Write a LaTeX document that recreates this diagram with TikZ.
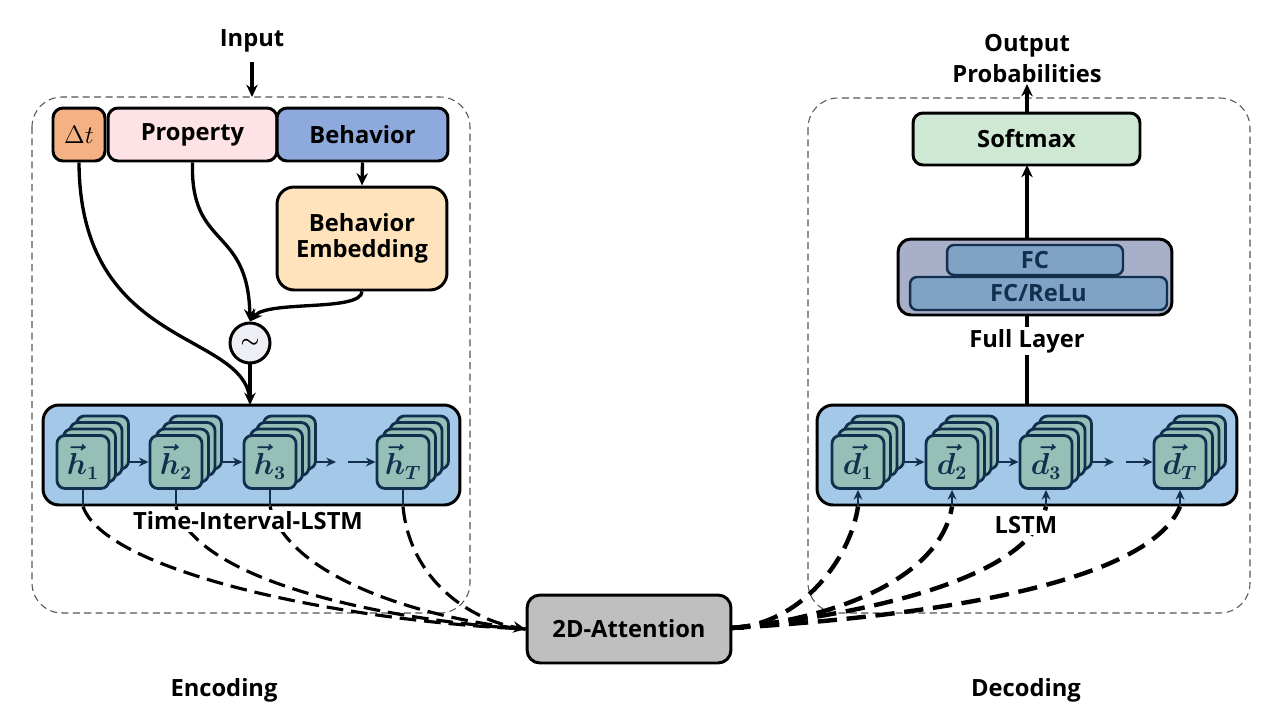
\documentclass[tikz,border=0pt]{standalone}
\usepackage{amsmath,bm}
\usepackage[no-math]{fontspec}
\setmainfont{Open Sans}
\usetikzlibrary{arrows.meta}
\definecolor{navy}{HTML}{12304D}
\definecolor{dtfill}{HTML}{F4B183}
\definecolor{propfill}{HTML}{FDE3E6}
\definecolor{behfill}{HTML}{8EA9DB}
\definecolor{embfill}{HTML}{FFE3BC}
\definecolor{circfill}{HTML}{EEEFF4}
\definecolor{lstmfill}{HTML}{A3C8E8}
\definecolor{cellfill}{HTML}{96BFB7}
\definecolor{fullfill}{HTML}{A7AFC9}
\definecolor{fcfill}{HTML}{7FA2C5}
\definecolor{softfill}{HTML}{CEE8D4}
\definecolor{attfill}{HTML}{BFBFBF}
\definecolor{dashgray}{HTML}{555555}
\pgfdeclarelayer{background}
\pgfsetlayers{background,main}
\newcommand\cellstack[4]{%
  \foreach \k in {3,2,1} {\node[cell] at ({#2+6.5*\k},{#3-6.5*\k}) {};}
  \node[cell, font=\fontsize{16}{18}\selectfont] (#1) at (#2,#3) {#4};}
\begin{document}
\begin{tikzpicture}[x=0.02cm,y=-0.02cm,
  txt/.style={font=\bfseries\fontsize{13.5}{16}\selectfont},
  box/.style={draw=black, line width=1.7pt, rounded corners=0.2cm, inner sep=0pt, txt},
  cell/.style={draw=navy, line width=1.6pt, fill=cellfill, minimum width=1.04cm, minimum height=1.06cm, rounded corners=0.16cm, inner sep=0pt, text=navy},
  inner/.style={draw=navy, line width=1.4pt, fill=fcfill, rounded corners=0.14cm, inner sep=0pt, text=navy, txt},
  arr/.style={line width=1.9pt, -{Stealth[length=7pt,width=6.5pt]}},
  carr/.style={draw=navy, line width=1.6pt, -{Stealth[length=5.5pt,width=5pt]}},
  encd/.style={line width=1.8pt, dash pattern=on 9.5pt off 4.5pt},
  decd/.style={line width=2.5pt, dash pattern=on 11pt off 5.5pt},
  dbox/.style={draw=dashgray, line width=0.6pt, dash pattern=on 4pt off 2.5pt, rounded corners=0.6cm},
  lab/.style={txt, fill=white, inner sep=1pt}]
\useasboundingbox (0,0) rectangle (1280,720);

% dashed group boxes
\begin{pgfonlayer}{background}
\draw[dbox] (32,97) rectangle (470,613);
\draw[dbox] (808,98) rectangle (1250,613);
\end{pgfonlayer}

% top input side
\node[txt] (input) at (252,41) {Input};
\node[box, fill=dtfill, minimum width=1.04cm, minimum height=1.06cm, font=\fontsize{13.5}{16}\selectfont] (dt) at (79,134.5) {$\Delta t$};
\node[box, fill=propfill, minimum width=3.38cm, minimum height=1.06cm] (prop) at (192.5,134.5) {Property};
\node[box, fill=behfill, minimum width=3.42cm, minimum height=1.06cm] (beh) at (362.5,134.5) {Behavior};
\node[box, fill=embfill, minimum width=3.4cm, minimum height=2.06cm, rounded corners=0.34cm, align=center] (emb) at (362,238.5) {Behavior\\[-1pt]Embedding};
\node[draw=black, line width=1.7pt, fill=circfill, circle, minimum size=0.8cm, inner sep=0pt, font=\fontsize{12}{14}\selectfont] (mix) at (250,343) {$\bm{\sim}$};

\coordinate (intop) at (252,97);
\draw[arr] (input.south |- 0,62) -- (intop);
\draw[arr] (beh.south) -- (emb.north);

% encoder LSTM
\node[box, fill=lstmfill, minimum width=8.34cm, minimum height=2.0cm, rounded corners=0.32cm] (enc) at (251.5,455) {};
\cellstack{h1}{83}{462}{$\bm{\vec{h}}_{\mathbf{1}}$}
\cellstack{h2}{176}{462}{$\bm{\vec{h}}_{\mathbf{2}}$}
\cellstack{h3}{270}{462}{$\bm{\vec{h}}_{\mathbf{3}}$}
\cellstack{hT}{403}{462}{$\bm{\vec{h}}_{\bm{T}}$}
\coordinate (e1) at (129,462);
\coordinate (e2) at (222,462);
\coordinate (e3) at (316,462);
\coordinate (e4) at (336,462);
\coordinate (e5) at (348,462);
\draw[carr] (e1) -- (h2.west);
\draw[carr] (e2) -- (h3.west);
\draw[carr] (e3) -- (e4);
\draw[carr] (e5) -- (hT.west);

% curves into mixer / LSTM
\coordinate (enctop) at (250,405);
\draw[line width=1.9pt] (dt.south) .. controls (80,350) and (244,330) .. (250,400);
\draw[arr] (prop.south) .. controls (190,250) and (248,225) .. (mix.north);
\draw[arr] (emb.south) .. controls (361,312) and (268,300) .. (mix.north);
\draw[arr] (mix.south) -- (enctop);

% attention
\node[box, fill=attfill, minimum width=4.08cm, minimum height=1.36cm, rounded corners=0.26cm] (att) at (629,629) {2D-Attention};

% encoder to attention
\foreach \c in {h1,h2,h3,hT} {\coordinate (\c b) at (\c.south |- enc.south);
  \draw[navy, line width=1.3pt] (\c.south) -- (\c b);}
\draw[encd] (h1b) .. controls (105,570) and (330,620) .. (att.west);
\draw[encd] (h2b) .. controls (195,580) and (380,620) .. (att.west);
\draw[encd] (h3b) .. controls (290,580) and (430,620) .. (att.west);
\draw[encd, -{Stealth[length=7pt,width=6.5pt]}] (hTb) .. controls (410,580) and (470,620) .. (att.west);
\node[lab] (tlabel) at (248,521) {Time-Interval-LSTM};

% decoder LSTM
\node[box, fill=lstmfill, minimum width=8.4cm, minimum height=2.0cm, rounded corners=0.32cm] (dec) at (1027,455) {};
\cellstack{d1}{858}{462}{$\bm{\vec{d}}_{\mathbf{1}}$}
\cellstack{d2}{952}{462}{$\bm{\vec{d}}_{\mathbf{2}}$}
\cellstack{d3}{1046}{462}{$\bm{\vec{d}}_{\mathbf{3}}$}
\cellstack{dT}{1180}{462}{$\bm{\vec{d}}_{\bm{T}}$}
\coordinate (f1) at (904,462);
\coordinate (f2) at (998,462);
\coordinate (f3) at (1092,462);
\coordinate (f4) at (1114,462);
\coordinate (f5) at (1126,462);
\draw[carr] (f1) -- (d2.west);
\draw[carr] (f2) -- (d3.west);
\draw[carr] (f3) -- (f4);
\draw[carr] (f5) -- (dT.west);

\coordinate (attout) at (731,628);
\draw[line width=2pt] (att.east |- attout) -- (744,628);
\foreach \c in {d1,d2,d3,dT} {\coordinate (\c b) at (\c.south |- dec.south);
  \draw[carr] (\c b) -- (\c.south);}
\draw[decd] (attout) .. controls (800,625) and (850,560) .. (d1b);
\draw[decd] (attout) .. controls (830,620) and (940,580) .. (d2b);
\draw[decd] (attout) .. controls (860,615) and (1030,580) .. (d3b);
\draw[decd] (attout) .. controls (950,615) and (1150,580) .. (dTb);
\node[lab] (llabel) at (1026,525) {LSTM};

% full layer and softmax
\node[box, fill=fullfill, minimum width=5.48cm, minimum height=1.52cm, rounded corners=0.26cm] (full) at (1035,277) {};
\node[inner, minimum width=3.52cm, minimum height=0.6cm] (fc) at (1035,260) {FC};
\node[inner, minimum width=5.14cm, minimum height=0.66cm] (fcr) at (1038.5,293.5) {FC/ReLu};
\node[lab] (flabel) at (1027,341) {Full Layer};
\node[box, fill=softfill, minimum width=4.54cm, minimum height=1.04cm] (soft) at (1026.5,139) {Softmax};
\coordinate (dectop) at (1027,405);
\coordinate (softbot) at (1027,165);
\begin{pgfonlayer}{background}
\draw[arr] (dectop) -- (softbot);
\end{pgfonlayer}
\node[txt] (out1) at (1027,46) {Output};
\node[txt] (out2) at (1027,74) {Probabilities};
\coordinate (outtip) at (1027,84);
\draw[arr] (soft.north -| outtip) -- (outtip);

% bottom labels
\node[txt] (encl) at (224,690) {Encoding};
\node[txt] (decl) at (1026,690) {Decoding};
\end{tikzpicture}
\end{document}
